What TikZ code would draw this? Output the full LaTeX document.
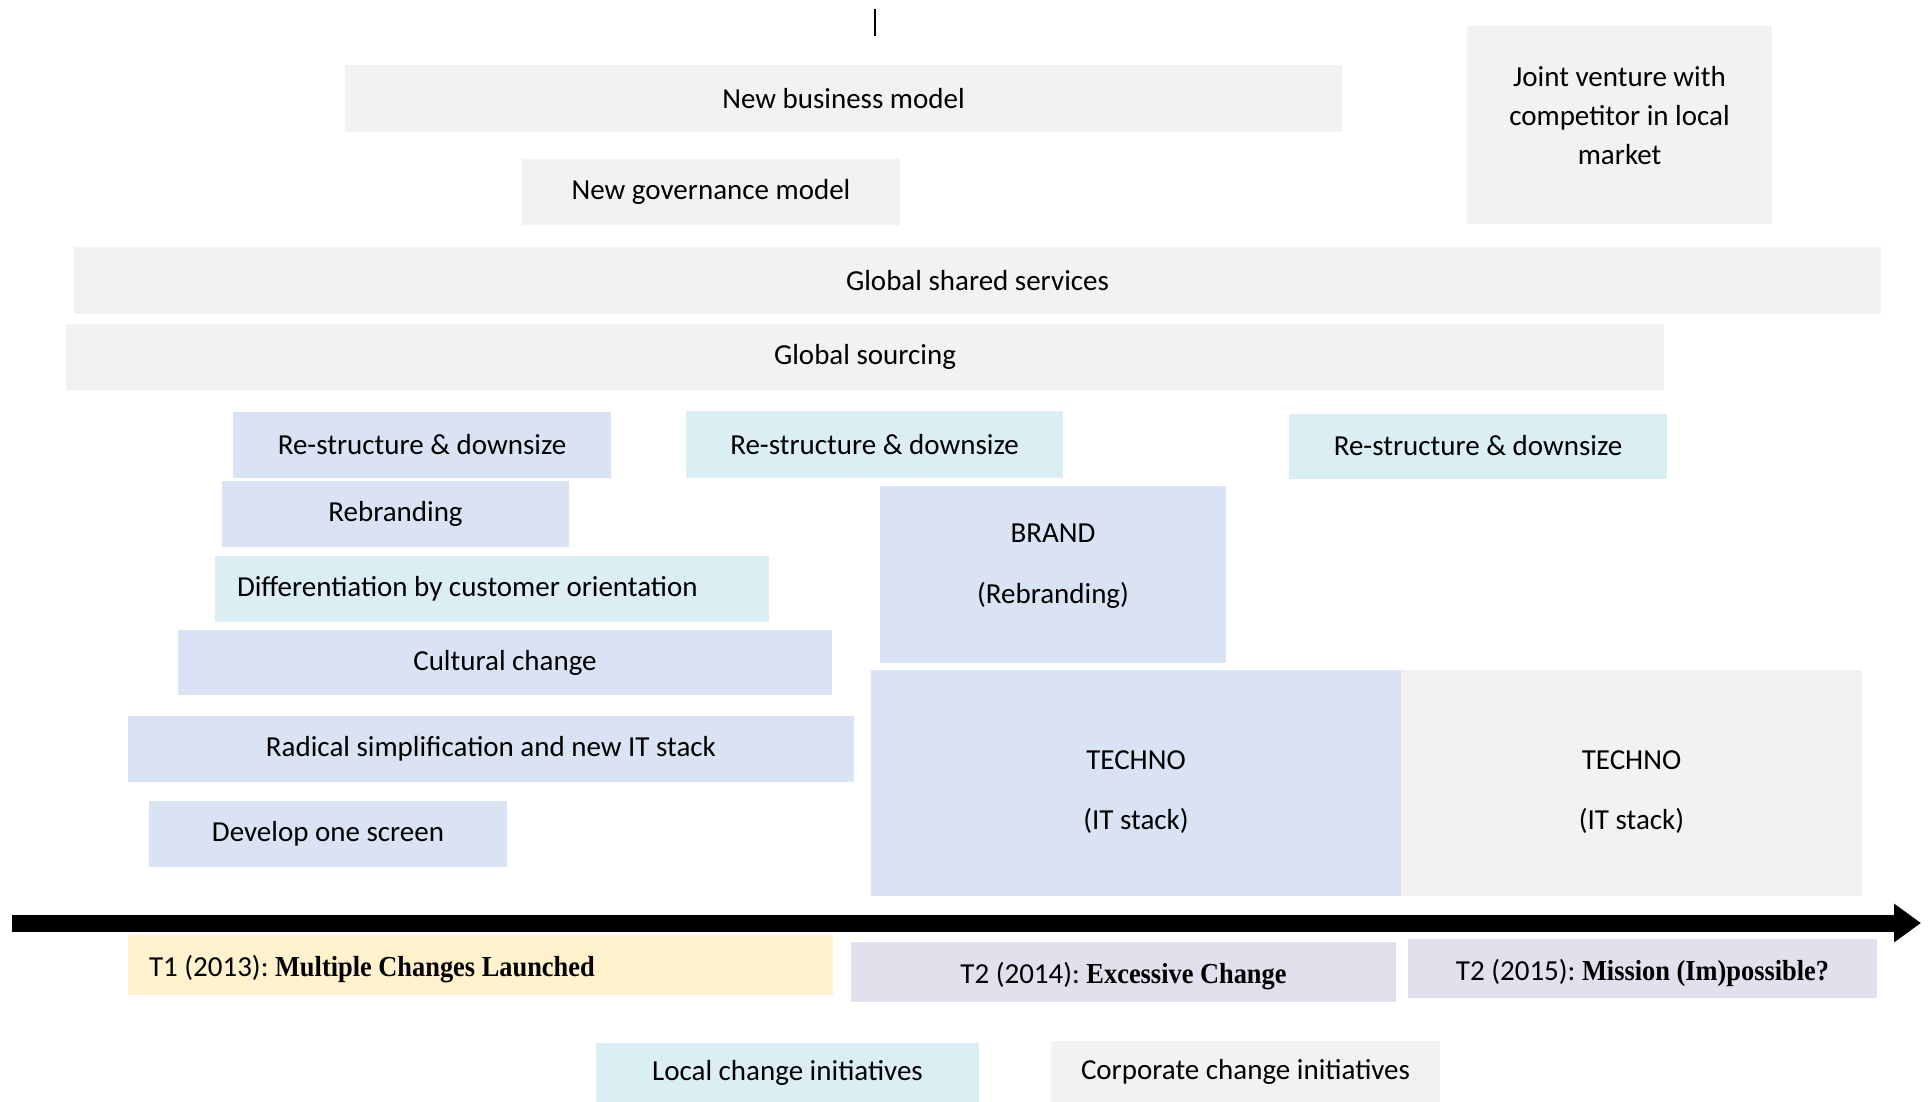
\documentclass[tikz,border=0pt]{standalone}
\usepackage{fontspec}
\setmainfont{Carlito}
\newfontfamily\serifbf{Liberation Serif}[FakeStretch=0.91]
\usepackage{tikz}
\usetikzlibrary{arrows.meta}
\frenchspacing
\definecolor{grau}{HTML}{F2F2F2}
\definecolor{blau}{HTML}{DAE3F3}
\definecolor{tuerkis}{HTML}{DAEEF3}
\definecolor{gelb}{HTML}{FFF2CC}
\definecolor{lila}{HTML}{E4DFEC}
\newcommand{\fett}[1]{{\serifbf\bfseries #1}}

\begin{document}
\begin{tikzpicture}[
x=1pt, y=-1pt,
font=\fontsize{29}{39}\selectfont,
feld/.style={inner sep=0pt, align=center},
grauFeld/.style={feld, fill=grau},
blauFeld/.style={feld, fill=blau},
tuerkisFeld/.style={feld, fill=tuerkis},
phase/.style={feld, text height=29pt, text depth=6pt},
zeitpfeil/.style={line width=17pt, -{Triangle[length=27pt,width=37pt]}}
]
% Rahmen
\useasboundingbox (0,0) rectangle (1930,1102);

% Strich oben
\draw[line width=2pt] (875,9) -- (875,36);

% Konzern-Initiativen
\node[grauFeld, minimum width=997, minimum height=67] (newbiz) at (843.5,98.5) {New business model};
\node[grauFeld, minimum width=378, minimum height=66] (newgov) at (711,192) {New governance model};
\node[grauFeld, minimum width=305, minimum height=198, text depth=20pt] (joint) at (1619.5,125) {Joint venture with\\competitor in local\\market};
\node[grauFeld, minimum width=1807, minimum height=67] (shared) at (977.5,280.5) {Global shared services};
\node[grauFeld, minimum width=1598, minimum height=66] (sourcing) at (865,357) {Global sourcing};

% Re-structure
\node[blauFeld, minimum width=378, minimum height=66] (rs1) at (422,445) {Re-structure \& downsize};
\node[tuerkisFeld, minimum width=377, minimum height=67] (rs2) at (874.5,444.5) {Re-structure \& downsize};
\node[tuerkisFeld, minimum width=378, minimum height=65] (rs3) at (1478,446) {Re-structure \& downsize};

% T1-Initiativen
\node[blauFeld, minimum width=347, minimum height=66] (rebrand) at (395.5,514) {Rebranding};
\node[tuerkisFeld, minimum width=554, minimum height=66, text width=510, inner xsep=22pt, align=flush left] (diff) at (492,589) {Differentiation by customer orientation};
\node[blauFeld, minimum width=654, minimum height=65] (cult) at (505,662.5) {Cultural change};
\node[blauFeld, minimum width=726, minimum height=66] (radical) at (491,749) {Radical simplification and new IT stack};
\node[blauFeld, minimum width=358, minimum height=66] (screen) at (328,834) {Develop one screen};

% BRAND und TECHNO
\node[blauFeld, minimum width=346, minimum height=177, text depth=21pt] (brand) at (1053,574.5) {BRAND\\[22pt](Rebranding)};
\node[blauFeld, minimum width=530, minimum height=226, text height=98pt] (techno1) at (1136,783) {TECHNO\\[21pt](IT stack)};
\node[grauFeld, minimum width=461, minimum height=226, text height=98pt] (techno2) at (1631.5,783) {TECHNO\\[21pt](IT stack)};

% Zeitachse
\coordinate (start) at (12,923);
\coordinate (ende) at (1921,923);
\draw[zeitpfeil] (start) -- (ende);

% Phasen
\node[phase, fill=gelb, minimum width=705, minimum height=60, text width=663, inner xsep=21pt, align=flush left] (t1) at (480.5,965) {T1 (2013): \fett{Multiple Changes Launched}};
\node[phase, fill=lila, minimum width=545, minimum height=60] (t2) at (1123.5,972) {T2 (2014): \fett{Excessive Change}};
\node[phase, fill=lila, minimum width=469, minimum height=59] (t3) at (1642.5,968.5) {T2 (2015): \fett{Mission (Im)possible?}};

% Legende
\node[tuerkisFeld, minimum width=383, minimum height=59] (local) at (787.5,1072.5) {Local change initiatives};
\node[grauFeld, minimum width=389, minimum height=61] (corp) at (1245.5,1071.5) {Corporate change initiatives};
\end{tikzpicture}
\end{document}
